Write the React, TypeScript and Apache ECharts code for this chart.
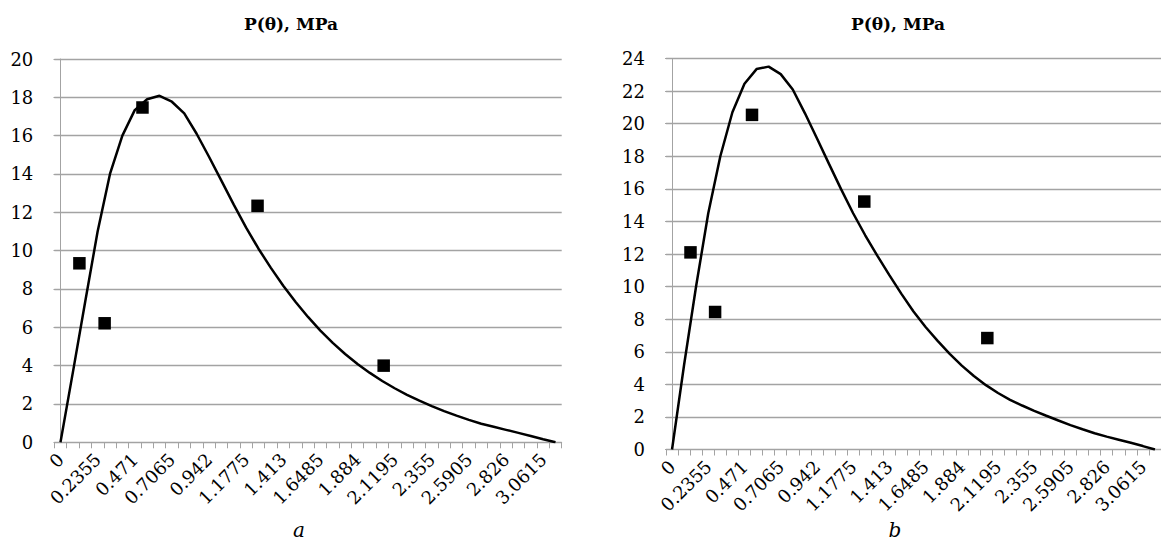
import React, { useEffect, useRef } from "react";
import * as echarts from "echarts";

// θ categories (rad), step π/40
const thetaCategories = [
  "0", "0.0785", "0.157", "0.2355", "0.314", "0.3925", "0.471", "0.5495", "0.628", "0.7065",
  "0.785", "0.8635", "0.942", "1.0205", "1.099", "1.1775", "1.256", "1.3345", "1.413", "1.4915",
  "1.57", "1.6485", "1.727", "1.8055", "1.884", "1.9625", "2.041", "2.1195", "2.198", "2.2765",
  "2.355", "2.4335", "2.512", "2.5905", "2.669", "2.7475", "2.826", "2.9045", "2.983", "3.0615",
  "3.14",
];

// calculated P(θ), MPa — panel a
const curveA = [
  0, 3.65, 7.35, 11.0, 14.0, 16.0, 17.33, 17.9, 18.08, 17.77,
  17.16, 16.1, 14.9, 13.65, 12.4, 11.2, 10.1, 9.1, 8.17, 7.32,
  6.54, 5.83, 5.19, 4.61, 4.09, 3.62, 3.2, 2.82, 2.48, 2.17,
  1.89, 1.63, 1.39, 1.17, 0.97, 0.81, 0.65, 0.49, 0.33, 0.16,
  0,
];

// calculated P(θ), MPa — panel b
const curveB = [
  0, 5.2, 10.05, 14.5, 18.0, 20.7, 22.45, 23.35, 23.5, 23.04,
  22.1, 20.65, 19.1, 17.53, 15.98, 14.5, 13.15, 11.9, 10.7, 9.55,
  8.47, 7.52, 6.67, 5.87, 5.15, 4.51, 3.95, 3.47, 3.05, 2.7,
  2.37, 2.07, 1.78, 1.5, 1.24, 1.0, 0.79, 0.6, 0.41, 0.21,
  0,
];

// measured points
const markerTheta = [0.12, 0.28, 0.52, 1.25, 2.05];
const markersA = [9.34, 6.21, 17.47, 12.34, 4.0];
const markersB = [12.1, 8.44, 20.54, 15.22, 6.84];

const yMaxA = 20;
const yMaxB = 24;
const yStep = 2;

const titleText = "P(θ), MPa";
const panelLabels = ["a", "b"];

const FONT = "DejaVu Serif";
const GRID_COLOR = "#a3a3a3";

export default function App() {
  const ref = useRef<HTMLDivElement>(null);

  useEffect(() => {
    if (!ref.current) return;
    const chart = echarts.init(ref.current, undefined, { renderer: "svg" });

    const grids = [
      { left: 54.3, top: 59, width: 507.4, height: 383.3 },
      { left: 666, top: 58.5, width: 501.7, height: 391 },
    ];

    const half = 0.0785 / 2;
    const xMin = -half;
    const xMax = 3.14 + half;

    const catAxis = (gridIndex: number) => ({
      type: "category",
      gridIndex,
      data: thetaCategories,
      boundaryGap: true,
      axisLine: { show: true, lineStyle: { color: GRID_COLOR, width: 1 } },
      axisTick: { show: true, interval: 0, length: 6, lineStyle: { color: GRID_COLOR } },
      axisLabel: {
        interval: 2,
        rotate: 45,
        margin: 14,
        color: "#000",
        fontFamily: FONT,
        fontSize: 18,
      },
      splitLine: { show: false },
    });

    const valXAxis = (gridIndex: number) => ({
      type: "value",
      gridIndex,
      min: xMin,
      max: xMax,
      show: false,
    });

    const yAxis = (gridIndex: number, max: number) => ({
      type: "value",
      gridIndex,
      min: 0,
      max,
      interval: yStep,
      axisLine: { show: true, lineStyle: { color: GRID_COLOR, width: 1 } },
      axisTick: { show: true, length: 7, lineStyle: { color: GRID_COLOR } },
      axisLabel: {
        margin: 21,
        color: "#000",
        fontFamily: FONT,
        fontSize: 18,
      },
      splitLine: { show: true, lineStyle: { color: GRID_COLOR, width: 1.3 } },
    });

    const lineSeries = (idx: number, data: number[]) => ({
      type: "line",
      xAxisIndex: idx * 2,
      yAxisIndex: idx,
      data,
      symbol: "none",
      smooth: false,
      lineStyle: { color: "#000", width: 2.5 },
      z: 3,
    });

    const markerSeries = (idx: number, vals: number[]) => ({
      type: "scatter",
      xAxisIndex: idx * 2 + 1,
      yAxisIndex: idx,
      data: markerTheta.map((t, i) => [t, vals[i]]),
      symbol: "rect",
      symbolSize: 12.5,
      itemStyle: { color: "#000", opacity: 1 },
      z: 4,
    });

    const titleCenters = [291, 898];
    const labelCenters = [299, 895];

    chart.setOption({
      animation: false,
      backgroundColor: "#fff",
      grid: grids,
      xAxis: [catAxis(0), valXAxis(0), catAxis(1), valXAxis(1)],
      yAxis: [yAxis(0, yMaxA), yAxis(1, yMaxB)],
      series: [
        lineSeries(0, curveA),
        markerSeries(0, markersA),
        lineSeries(1, curveB),
        markerSeries(1, markersB),
      ],
      graphic: [
        ...titleCenters.map((x) => ({
          type: "text",
          x,
          y: 24,
          style: {
            text: titleText,
            fontFamily: FONT,
            fontWeight: "bold",
            fontSize: 17,
            fill: "#000",
            textAlign: "center",
            textVerticalAlign: "middle",
          },
        })),
        ...labelCenters.map((x, i) => ({
          type: "text",
          x,
          y: 530,
          style: {
            text: panelLabels[i],
            fontFamily: FONT,
            fontStyle: "italic",
            fontSize: 20,
            fill: "#000",
            textAlign: "center",
            textVerticalAlign: "middle",
          },
        })),
      ],
    });

    return () => chart.dispose();
  }, []);

  return (
    <div
      ref={ref}
      style={{ position: "fixed", left: 0, top: 0, width: 1161, height: 547, overflow: "hidden" }}
    />
  );
}
